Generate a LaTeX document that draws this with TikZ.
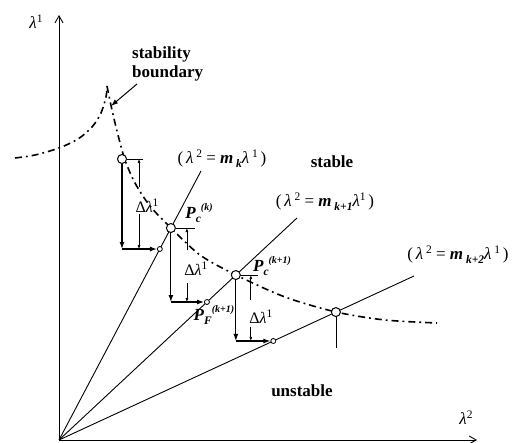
\documentclass[tikz,border=0pt]{standalone}
\usepackage{fontspec}
\setmainfont{Liberation Serif}
\usetikzlibrary{arrows.meta,calc}
\newcommand{\lam}{\textit{λ}}
\newcommand{\bim}[1]{\textbf{\textit{#1}}}
\newcommand{\lsub}[1]{\raisebox{-0.5ex}{\fontsize{11.5}{11.5}\selectfont\bim{#1}}}
\newcommand{\lsup}[1]{\raisebox{0.8ex}{\fontsize{11.5}{11.5}\selectfont #1}}
\newcommand{\bsup}[1]{\raisebox{1.0ex}{\fontsize{10}{10}\selectfont\bim{#1}}}
\begin{document}
\begin{tikzpicture}[x=1pt,y=-1pt,
  ax/.style={line width=0.9pt,-{Straight Barb[length=7pt,width=8pt]}},
  ray/.style={line width=0.9pt},
  bnd/.style={line width=1.6pt,dash pattern=on 7pt off 4pt on 1.8pt off 4pt},
  bigc/.style={circle,draw,line width=1pt,fill=white,inner sep=0pt,minimum size=9pt},
  smallc/.style={circle,draw,line width=0.8pt,fill=white,inner sep=0pt,minimum size=5pt},
  move/.style={line width=1.2pt,-{Latex[length=7pt,width=5pt]}},
  dim/.style={line width=0.7pt},
  dimup/.style={line width=0.7pt,-{Latex[length=4pt,width=3pt]}},
  lbl/.style={font=\fontsize{17}{17}\selectfont,inner sep=0pt},
  dl/.style={font=\fontsize{16}{16}\selectfont,inner sep=0pt},
  word/.style={font=\bfseries\fontsize{17}{19}\selectfont,inner sep=0pt}]
\useasboundingbox (0,0) rectangle (528,443);
% axes and rays
\coordinate (O) at (59,440);
\coordinate (Y) at (59,15);
\coordinate (X) at (477,440);
\coordinate (Ek) at (201,171);
\coordinate (Ek1) at (297,218);
\coordinate (Ek2) at (414,276);
\draw[ax] (O) -- (Y);
\draw[ax] (O) -- (X);
\draw[ray] (O) -- (Ek);
\draw[ray] (O) -- (Ek1);
\draw[ray] (O) -- (Ek2);
% stability boundary
\draw[bnd] plot[smooth] coordinates {(15,158) (35,155) (59,148) (78,139) (92,127) (101,113) (106,97) (107,86)};
\draw[bnd] plot[smooth] coordinates {(107,86) (112,110) (118,135) (125,160) (135,183) (150,206) (171,228) (200,255) (236,275) (285,297) (336,312) (385,320) (437,323)};
% points
\node[bigc] (A0) at (122,159) {};
\node[bigc] (Pk) at ($(O)!0.788!(Ek)$) {};
\node[smallc] (Fk) at ($(O)!0.71!(Ek)$) {};
\node[bigc] (Pk1) at ($(O)!0.743!(Ek1)$) {};
\node[smallc] (Fk1) at ($(O)!0.6216!(Ek1)$) {};
\node[bigc] (Pk2) at ($(O)!0.78!(Ek2)$) {};
\node[smallc] (Fk2) at ($(O)!0.6037!(Ek2)$) {};
% step 1
\coordinate (S0) at ($(A0)+(21,0)$);
\coordinate (T0) at ($(A0)+(17,0)$);
\coordinate (M0) at ($(A0)+(17,28)$);
\coordinate (N0) at ($(A0)+(17,55)$);
\coordinate (C0) at (A0 |- Fk);
\draw[dim] (A0) -- (S0);
\draw[dimup] (M0) -- (T0);
\draw[dimup] (N0) -- (T0 |- Fk);
\node[dl] (L0) at ($(A0)+(25,47)$) {Δ\lam\lsup{1}};
\draw[move] (A0) -- (C0);
\draw[move] (C0) -- (Fk);
% step 2
\coordinate (S1) at ($(Pk)+(24,0)$);
\coordinate (T1) at ($(Pk)+(16,0)$);
\coordinate (M1) at ($(Pk)+(16,22)$);
\coordinate (N1) at ($(Pk)+(16,55)$);
\coordinate (C1) at (Pk |- Fk1);
\draw[dim] (Pk) -- (S1);
\draw[dimup] (M1) -- (T1);
\draw[dimup] (N1) -- (T1 |- Fk1);
\node[dl] (L1) at ($(Pk)+(25,41)$) {Δ\lam\lsup{1}};
\draw[move] (Pk) -- (C1);
\draw[move] (C1) -- (Fk1);
% step 3
\coordinate (S2) at ($(Pk1)+(22,0)$);
\coordinate (T2) at ($(Pk1)+(15,0)$);
\coordinate (M2) at ($(Pk1)+(15,25)$);
\coordinate (N2) at ($(Pk1)+(15,52)$);
\coordinate (C2) at (Pk1 |- Fk2);
\draw[dim] (Pk1) -- (S2);
\draw[dimup] (M2) -- (T2);
\draw[dimup] (N2) -- (T2 |- Fk2);
\node[dl] (L2) at ($(Pk1)+(25,42)$) {Δ\lam\lsup{1}};
\draw[move] (Pk1) -- (C2);
\draw[move] (C2) -- (Fk2);
% step 4
\coordinate (D3) at ($(Pk2)+(0,36)$);
\draw[dim] (Pk2) -- (D3);
% labels
\node[lbl] (ly) at (36,22) {\lam\lsup{1}};
\node[lbl] (lx) at (466,418) {\lam\lsup{2}};
\node[word,align=left,anchor=west] (sb) at (132,64) {stability\\boundary};
\coordinate (ba) at (137,84);
\coordinate (bt) at (111,106);
\draw[line width=1pt,-{Latex[length=7pt,width=5pt]}] (ba) -- (bt);
\node[word] (st) at (332,162) {stable};
\node[word] (ust) at (302,391) {unstable};
\node[lbl] (mk) at (222,159) {(\,\lam\,\lsup{2} = \bim{m}\,\lsub{k}\lam\,\lsup{1}\,)};
\node[lbl] (mk1) at (325,202) {(\,\lam\,\lsup{2} = \bim{m}\,\lsub{k+1}\lam\lsup{1}\,)};
\node[lbl] (mk2) at (458,255) {(\,\lam\,\lsup{2} = \bim{m}\,\lsub{k+2}\lam\,\lsup{1}\,)};
\node[lbl] (pck) at (199,213) {\bim{P}\lsub{c}\bsup{(k)}};
\node[lbl] (pck1) at (272,266) {\bim{P}\lsub{c}\bsup{(k+1)}};
\node[lbl] (pfk1) at (214,315) {\bim{P}\lsub{F}\bsup{(k+1)}};
\end{tikzpicture}
\end{document}
